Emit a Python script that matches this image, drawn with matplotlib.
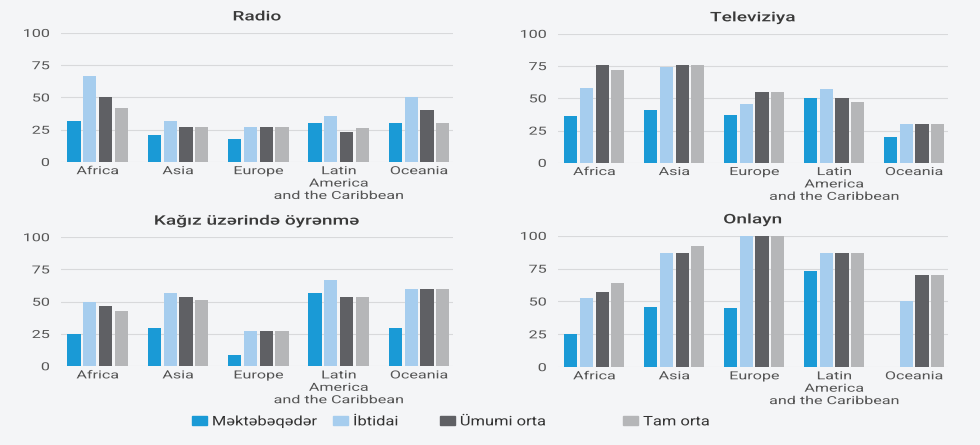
import numpy as np
import matplotlib
matplotlib.use('Agg')
import matplotlib.pyplot as plt
from matplotlib.patches import Patch
from matplotlib.patheffects import AbstractPathEffect
from matplotlib.transforms import Affine2D

plt.rcParams['font.family'] = ['Roboto', 'DejaVu Sans']

regions = ['Africa', 'Asia', 'Europe', 'Latin\nAmerica\nand the Caribbean', 'Oceania']
levels = ['Məktəbəqədər', 'İbtidai', 'Ümumi orta', 'Tam orta']
colors = ['#1a9ad6', '#a6cdee', '#5f6064', '#b5b6b8']
yticks = [0, 25, 50, 75, 100]

# values per panel: rows = level, columns = region
radio = [
    [32, 21, 18, 30, 30],
    [67, 32, 27, 36, 50],
    [50, 27, 27, 23, 40],
    [42, 27, 27, 26, 30],
]
tv = [
    [36, 41, 37, 50, 20],
    [58, 74, 46, 57, 30],
    [76, 76, 55, 50, 30],
    [72, 76, 55, 47, 30],
]
paper = [
    [25, 30, 9, 57, 30],
    [50, 57, 27, 67, 60],
    [47, 54, 27, 54, 60],
    [43, 51, 27, 54, 60],
]
online = [
    [25, 46, 45, 73, 0],
    [53, 87, 100, 87, 50],
    [57, 87, 100, 87, 70],
    [64, 92, 100, 87, 70],
]

panels = [
    ('Radio', radio, [0.062, 0.636, 0.400, 0.290]),
    ('Televiziya', tv, [0.569, 0.634, 0.398, 0.290]),
    ('Kağız üzərində öyrənmə', paper, [0.062, 0.177, 0.400, 0.290]),
    ('Onlayn', online, [0.569, 0.175, 0.398, 0.295]),
]


class Stretch(AbstractPathEffect):
    # widen glyphs horizontally, the source picture has wide text
    def __init__(self, sx, anchor='center'):
        super().__init__()
        self.sx = sx
        self.anchor = anchor

    def draw_path(self, renderer, gc, tpath, affine, rgbFace=None):
        xs = tpath.vertices[:, 0]
        cx = 0
        if len(xs):
            if self.anchor == 'center':
                cx = (xs.min() + xs.max()) / 2
            elif self.anchor == 'right':
                cx = xs.max()
        t = Affine2D().translate(-cx, 0).scale(self.sx, 1).translate(cx, 0) + affine
        renderer.draw_path(gc, tpath, t, rgbFace)


bg = '#f4f5f7'
fig = plt.figure(figsize=(9.8, 4.45), dpi=100, facecolor=bg)

x = np.arange(len(regions))
step = 0.196
width = 0.165

for title, data, rect in panels:
    ax = fig.add_axes(rect, facecolor=bg)
    for i, vals in enumerate(data):
        ax.bar(x + (i - 1.5) * step, vals, width, color=colors[i], zorder=3)
    ax.set_xlim(-0.46, 4.42)
    ax.set_ylim(0, 100)
    ax.set_yticks(yticks)
    ax.grid(axis='y', color='#d8d9db', linewidth=0.8, zorder=0)
    ax.set_axisbelow(True)
    for s in ax.spines.values():
        s.set_visible(False)
    ax.set_xticks(x)
    ax.set_xticklabels(regions, linespacing=1.3)
    ax.tick_params(axis='both', length=0, labelcolor='#555555', labelsize=8)
    ax.tick_params(axis='y', pad=8)
    ax.tick_params(axis='x', pad=3)
    for t in ax.get_xticklabels():
        t.set_path_effects([Stretch(1.45, 'center')])
    for t in ax.get_yticklabels():
        t.set_path_effects([Stretch(1.45, 'right')])
    ttl = ax.set_title(title, fontsize=9.5, fontweight='medium', color='#3a3a3a', pad=9)
    ttl.set_path_effects([Stretch(1.45, 'center')])

legend_x = [0.196, 0.340, 0.449, 0.636]
for i, lab in enumerate(levels):
    leg = fig.legend(handles=[Patch(color=colors[i])], labels=[lab],
                     loc='center left', bbox_to_anchor=(legend_x[i], 0.052),
                     frameon=False, fontsize=9.5, handlelength=1.1, handleheight=0.7,
                     handletextpad=0.4, borderaxespad=0, borderpad=0,
                     labelcolor='#333333')
    for t in leg.get_texts():
        t.set_path_effects([Stretch(1.25, 'left')])

fig.savefig('out.png', dpi=100, facecolor=bg)
